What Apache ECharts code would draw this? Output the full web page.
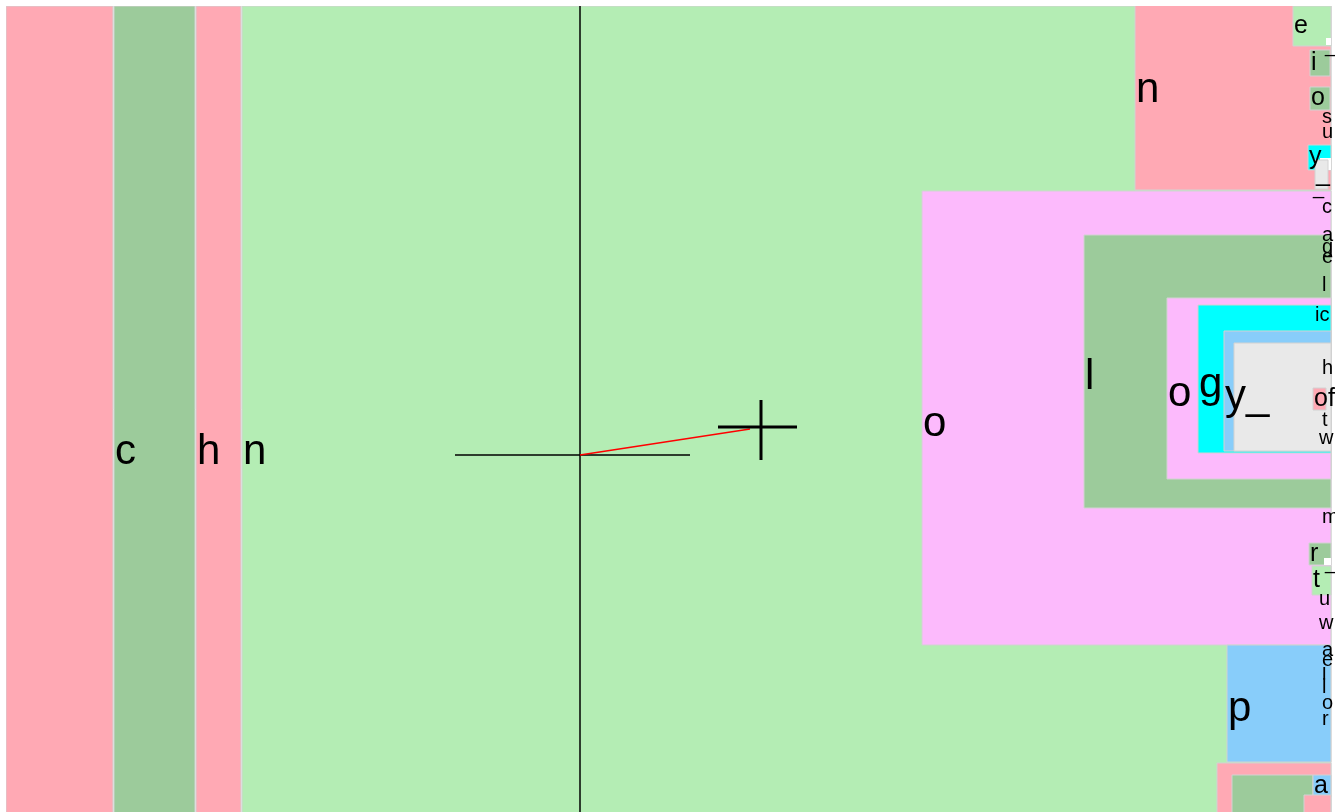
<!DOCTYPE html>
<html>
<head>
<meta charset="utf-8">
<script src="https://cdn.jsdelivr.net/npm/echarts@6/dist/echarts.min.js"></script>
<style>
  html, body { margin: 0; padding: 0; background: #fff; }
  #main { width: 1335px; height: 812px; }
</style>
</head>
<body>
<div id="main"></div>
<script>
// nested boxes, one letter per box (x0, y0, x1, y1 in chart units)
const letters = ['', 'c', 'h', 'n', 'n', 'e', '', 'i', '_', 'o', 's', 'u', 'y', '', '_', '_',
  'o', 'c', 'l', 'a', 'g', 'e', 'l', 'o', 'g', 'ic', 'y_', '', 'h', 'of', 't', 'w',
  'm', 'r', '', 't', '_', 'u', 'w', 'p', 'a', 'e', 'l', 'i', 'o', 'r', '', '', 'a', 'e'];
const boxX0 = [6, 114, 196, 242, 1135, 1293, 1326, 1310, 1324, 1310, 1321, 1321, 1308, 1320, 1315, 1312,
  922, 1321, 1084, 1321, 1321, 1321, 1321, 1167, 1198, 1314, 1224, 1234, 1321, 1313, 1321, 1318,
  1321, 1309, 1324, 1312, 1324, 1318, 1318, 1227, 1321, 1321, 1321, 1321, 1321, 1321, 1217, 1232, 1313, 1304];
const boxY0 = [6, 6, 6, 6, -22, 6, 38, 50, 40, 87, 109, 124, 145, 158, 160, 180,
  191, 196, 235, 227, 238, 248, 274, 298, 305, 305, 331, 343, 356, 388, 410, 426,
  506, 543, 558, 566, 556, 590, 612, 645, 642, 652, 668, 678, 694, 710, 763, 775, 775, 795];
const boxX1 = [113, 195, 241, 1331, 1331, 1331, 1331, 1330, 1331, 1330, 1331, 1331, 1331, 1331, 1328, 1331,
  1331, 1331, 1331, 1331, 1331, 1331, 1331, 1331, 1331, 1331, 1331, 1331, 1331, 1326, 1331, 1331,
  1331, 1331, 1331, 1331, 1331, 1331, 1331, 1331, 1331, 1331, 1331, 1331, 1331, 1331, 1331, 1313, 1331, 1331];
const boxY1 = [886, 886, 886, 886, 190, 46, 45, 76, 52, 110, 125, 140, 170, 170, 189, 196,
  645, 218, 508, 244, 256, 266, 296, 479, 453, 326, 451, 451, 380, 410, 430, 450,
  528, 565, 565, 595, 570, 608, 634, 762, 658, 668, 684, 696, 712, 728, 894, 894, 797, 894];
// 0 pink, 1 dark green, 2 light green, 3 violet, 4 cyan, 5 sky blue, 6 grey, 7 white, 8 text only
const boxKind = [0, 1, 0, 2, 0, 2, 7, 1, 8, 1, 8, 8, 4, 7, 6, 8,
  3, 8, 1, 8, 8, 8, 8, 3, 4, 8, 5, 6, 8, 0, 8, 8,
  8, 1, 7, 2, 8, 8, 8, 5, 8, 8, 8, 8, 8, 8, 0, 1, 5, 0];

// pointer overlay segments
const segX0 = [580, 455, 580, 718, 761];
const segY0 = [6, 455, 455, 427, 400];
const segX1 = [580, 690, 750, 797, 761];
const segY1 = [812, 455, 429, 427, 460];
const segKind = [0, 0, 1, 2, 2];

const fills = ['#ffa9b4', '#9ccb9b', '#b4edb4', '#fcbafc', '#00ffff', '#88cdfa', '#e9e9e9', '#ffffff', null];
const labelFont = '"Liberation Sans", Arial, sans-serif';

const chart = echarts.init(document.getElementById('main'));

const boxData = letters.map((t, i) => [boxX0[i], boxY0[i], boxX1[i], boxY1[i], boxKind[i]]);
const segData = segKind.map((k, i) => [segX0[i], segY0[i], segX1[i], segY1[i], k]);

chart.setOption({
  animation: false,
  grid: { left: 6, right: 0, top: 6, bottom: 0 },
  xAxis: { type: 'value', min: 6, max: 1335, show: false },
  yAxis: { type: 'value', min: 6, max: 812, inverse: true, show: false },
  series: [
    {
      type: 'custom',
      clip: true,
      data: boxData,
      renderItem: (params, api) => {
        const p0 = api.coord([api.value(0), api.value(1)]);
        const p1 = api.coord([api.value(2), api.value(3)]);
        const kind = api.value(4);
        const w = p1[0] - p0[0], h = p1[1] - p0[1];
        const children = [];
        if (fills[kind]) {
          children.push({
            type: 'rect',
            z2: 0,
            shape: { x: p0[0], y: p0[1], width: w, height: h },
            style: { fill: fills[kind], stroke: kind === 7 ? null : '#d2d2d2', lineWidth: 1 }
          });
        }
        const t = letters[params.dataIndex];
        if (t) {
          const big = h >= 100;
          const size = big ? 42 : (kind === 8 ? 20 : 25);
          children.push({
            type: 'text',
            z2: 10,
            x: p0[0] + 1,
            y: p0[1] + h / 2 + (big ? 6 : 0),
            style: {
              text: t,
              fill: '#000',
              font: size + 'px ' + labelFont,
              verticalAlign: 'middle',
              align: 'left'
            }
          });
        }
        return { type: 'group', children };
      }
    },
    {
      type: 'custom',
      data: segData,
      z: 5,
      renderItem: (params, api) => {
        const p0 = api.coord([api.value(0), api.value(1)]);
        const p1 = api.coord([api.value(2), api.value(3)]);
        const k = api.value(4);
        return {
          type: 'line',
          shape: { x1: p0[0], y1: p0[1], x2: p1[0], y2: p1[1] },
          style: { stroke: k === 1 ? '#ff0000' : '#000000', lineWidth: k === 2 ? 3 : 1.5 }
        };
      }
    }
  ]
});
</script>
</body>
</html>
